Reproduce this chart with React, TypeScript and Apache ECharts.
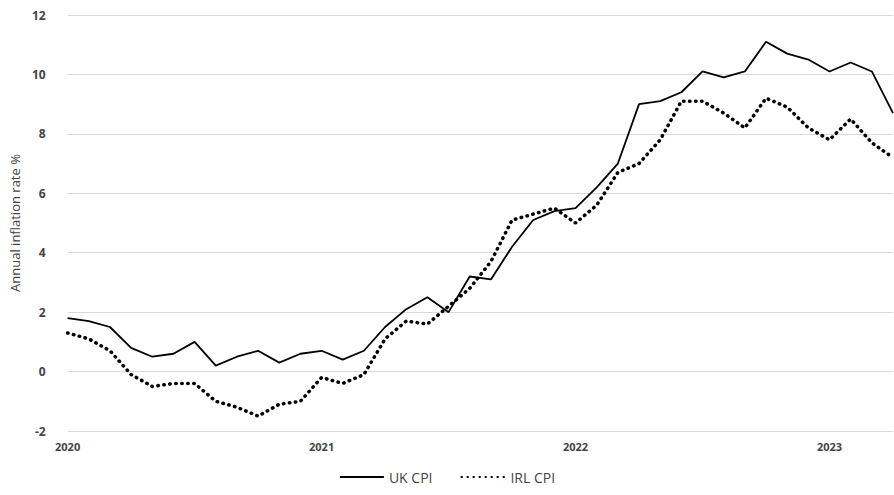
import React, { useEffect, useRef } from "react";
import * as echarts from "echarts";

const months = Array.from({ length: 40 }, (_, i) => `${2020 + Math.floor(i / 12)}-${(i % 12) + 1}`);
const ukCpi = [1.8, 1.7, 1.5, 0.8, 0.5, 0.6, 1.0, 0.2, 0.5, 0.7, 0.3, 0.6,
  0.7, 0.4, 0.7, 1.5, 2.1, 2.5, 2.0, 3.2, 3.1, 4.2, 5.1, 5.4,
  5.5, 6.2, 7.0, 9.0, 9.1, 9.4, 10.1, 9.9, 10.1, 11.1, 10.7, 10.5,
  10.1, 10.4, 10.1, 8.7];
const irlCpi = [1.3, 1.1, 0.7, -0.1, -0.5, -0.4, -0.4, -1.0, -1.2, -1.5, -1.1, -1.0,
  -0.2, -0.4, -0.1, 1.1, 1.7, 1.6, 2.2, 2.8, 3.7, 5.1, 5.3, 5.5,
  5.0, 5.6, 6.7, 7.0, 7.8, 9.1, 9.1, 8.7, 8.2, 9.2, 8.9, 8.2,
  7.8, 8.5, 7.7, 7.2];

export default function App() {
  const ref = useRef<HTMLDivElement | null>(null);

  useEffect(() => {
    if (!ref.current) return;
    const chart = echarts.init(ref.current, undefined, { renderer: "svg" });
    chart.setOption({
      animation: false,
      textStyle: { fontFamily: "Open Sans" },
      grid: { left: 60, right: 1, top: 15, bottom: 64 },
      legend: {
        bottom: 6,
        left: "center",
        itemWidth: 44,
        itemHeight: 10,
        itemGap: 28,
        itemStyle: { opacity: 0 },
        textStyle: { color: "#444", fontSize: 14 },
        data: ["UK CPI", "IRL CPI"],
      },
      xAxis: {
        type: "category",
        boundaryGap: false,
        data: months,
        axisLine: { lineStyle: { color: "#d9d9d9" } },
        axisTick: { show: false },
        axisLabel: {
          interval: (i: number) => i % 12 === 0,
          formatter: (v: string) => v.split("-")[0],
          color: "#444",
          fontSize: 11,
          fontWeight: "bold",
          margin: 10,
        },
      },
      yAxis: {
        type: "value",
        min: -2,
        max: 12,
        interval: 2,
        name: "Annual inflation rate %",
        nameLocation: "middle",
        nameGap: 42,
        nameTextStyle: { color: "#444", fontSize: 13 },
        axisLabel: { color: "#444", fontSize: 12, fontWeight: "bold", margin: 22 },
        splitLine: { lineStyle: { color: "#d9d9d9" } },
      },
      series: [
        {
          name: "UK CPI",
          type: "line",
          data: ukCpi,
          symbol: "none",
          lineStyle: { color: "#000", width: 1.8 },
          itemStyle: { color: "#000" },
        },
        {
          name: "IRL CPI",
          type: "line",
          data: irlCpi,
          symbol: "none",
          lineStyle: { color: "#000", width: 3.5, type: [0.5, 5.5], cap: "round" },
          itemStyle: { color: "#000" },
        },
      ],
    });
    return () => chart.dispose();
  }, []);

  return <div ref={ref} style={{ width: 894, height: 495, position: "absolute", left: 0, top: 0 }} />;
}
